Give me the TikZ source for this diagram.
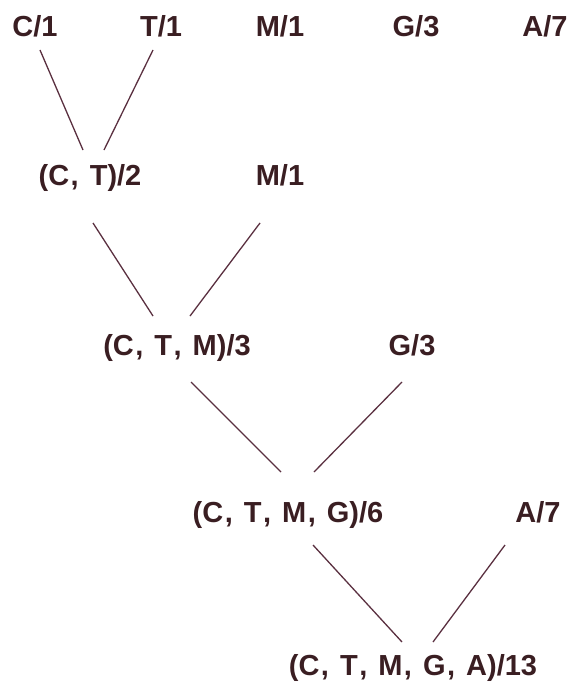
\documentclass[tikz,border=0pt]{standalone}
\usepackage{fontspec}
\setmainfont{Liberation Sans}
\definecolor{txt}{HTML}{3A1E22}
\definecolor{ln}{HTML}{5A3040}
\newcommand\widewords{\spaceskip=11pt plus 0pt minus 0pt\relax}
\newcommand\sepc{\kern1.5pt,}
\begin{document}
\begin{tikzpicture}[x=1pt,y=-1pt,
  lbl/.style={inner sep=0pt, text height=20pt, text depth=0pt, text=txt,
    font=\fontsize{29}{31}\selectfont\bfseries,
    execute at begin node=\widewords},
  edge/.style={draw=ln, line width=1.3pt}]
\useasboundingbox (0,0) rectangle (569,685);
% row 1
\node[lbl] (c1) at (35,27) {C/1};
\node[lbl] (t1) at (161,27) {T/1};
\node[lbl] (m1) at (280,27) {M/1};
\node[lbl] (g1) at (416,27) {G/3};
\node[lbl] (a1) at (545,27) {A/7};
% row 2
\node[lbl] (ct) at (90,175) {(C\sepc{} T)/2};
\node[lbl] (m2) at (280,175) {M/1};
% row 3
\node[lbl] (ctm) at (177,345) {(C\sepc{} T\sepc{} M)/3};
\node[lbl] (g2) at (412,345) {G/3};
% row 4
\node[lbl] (ctmg) at (288,512) {(C\sepc{} T\sepc{} M\sepc{} G)/6};
\node[lbl] (a3) at (538,512) {A/7};
% row 5
\node[lbl] (all) at (413,665) {(C\sepc{} T\sepc{} M\sepc{} G\sepc{} A)/13};
% connectors
\draw[edge] ([shift={(5,23)}]c1.center) -- ([shift={(-7,-25)}]ct.center);
\draw[edge] ([shift={(-8,23)}]t1.center) -- ([shift={(14,-25)}]ct.center);
\draw[edge] ([shift={(3,48)}]ct.center) -- ([shift={(-24,-29)}]ctm.center);
\draw[edge] ([shift={(-20,48)}]m2.center) -- ([shift={(13,-29)}]ctm.center);
\draw[edge] ([shift={(14,37)}]ctm.center) -- ([shift={(-7,-40)}]ctmg.center);
\draw[edge] ([shift={(-10,37)}]g2.center) -- ([shift={(26,-40)}]ctmg.center);
\draw[edge] ([shift={(25,33)}]ctmg.center) -- ([shift={(-11,-23)}]all.center);
\draw[edge] ([shift={(-33,33)}]a3.center) -- ([shift={(20,-23)}]all.center);
\end{tikzpicture}
\end{document}
